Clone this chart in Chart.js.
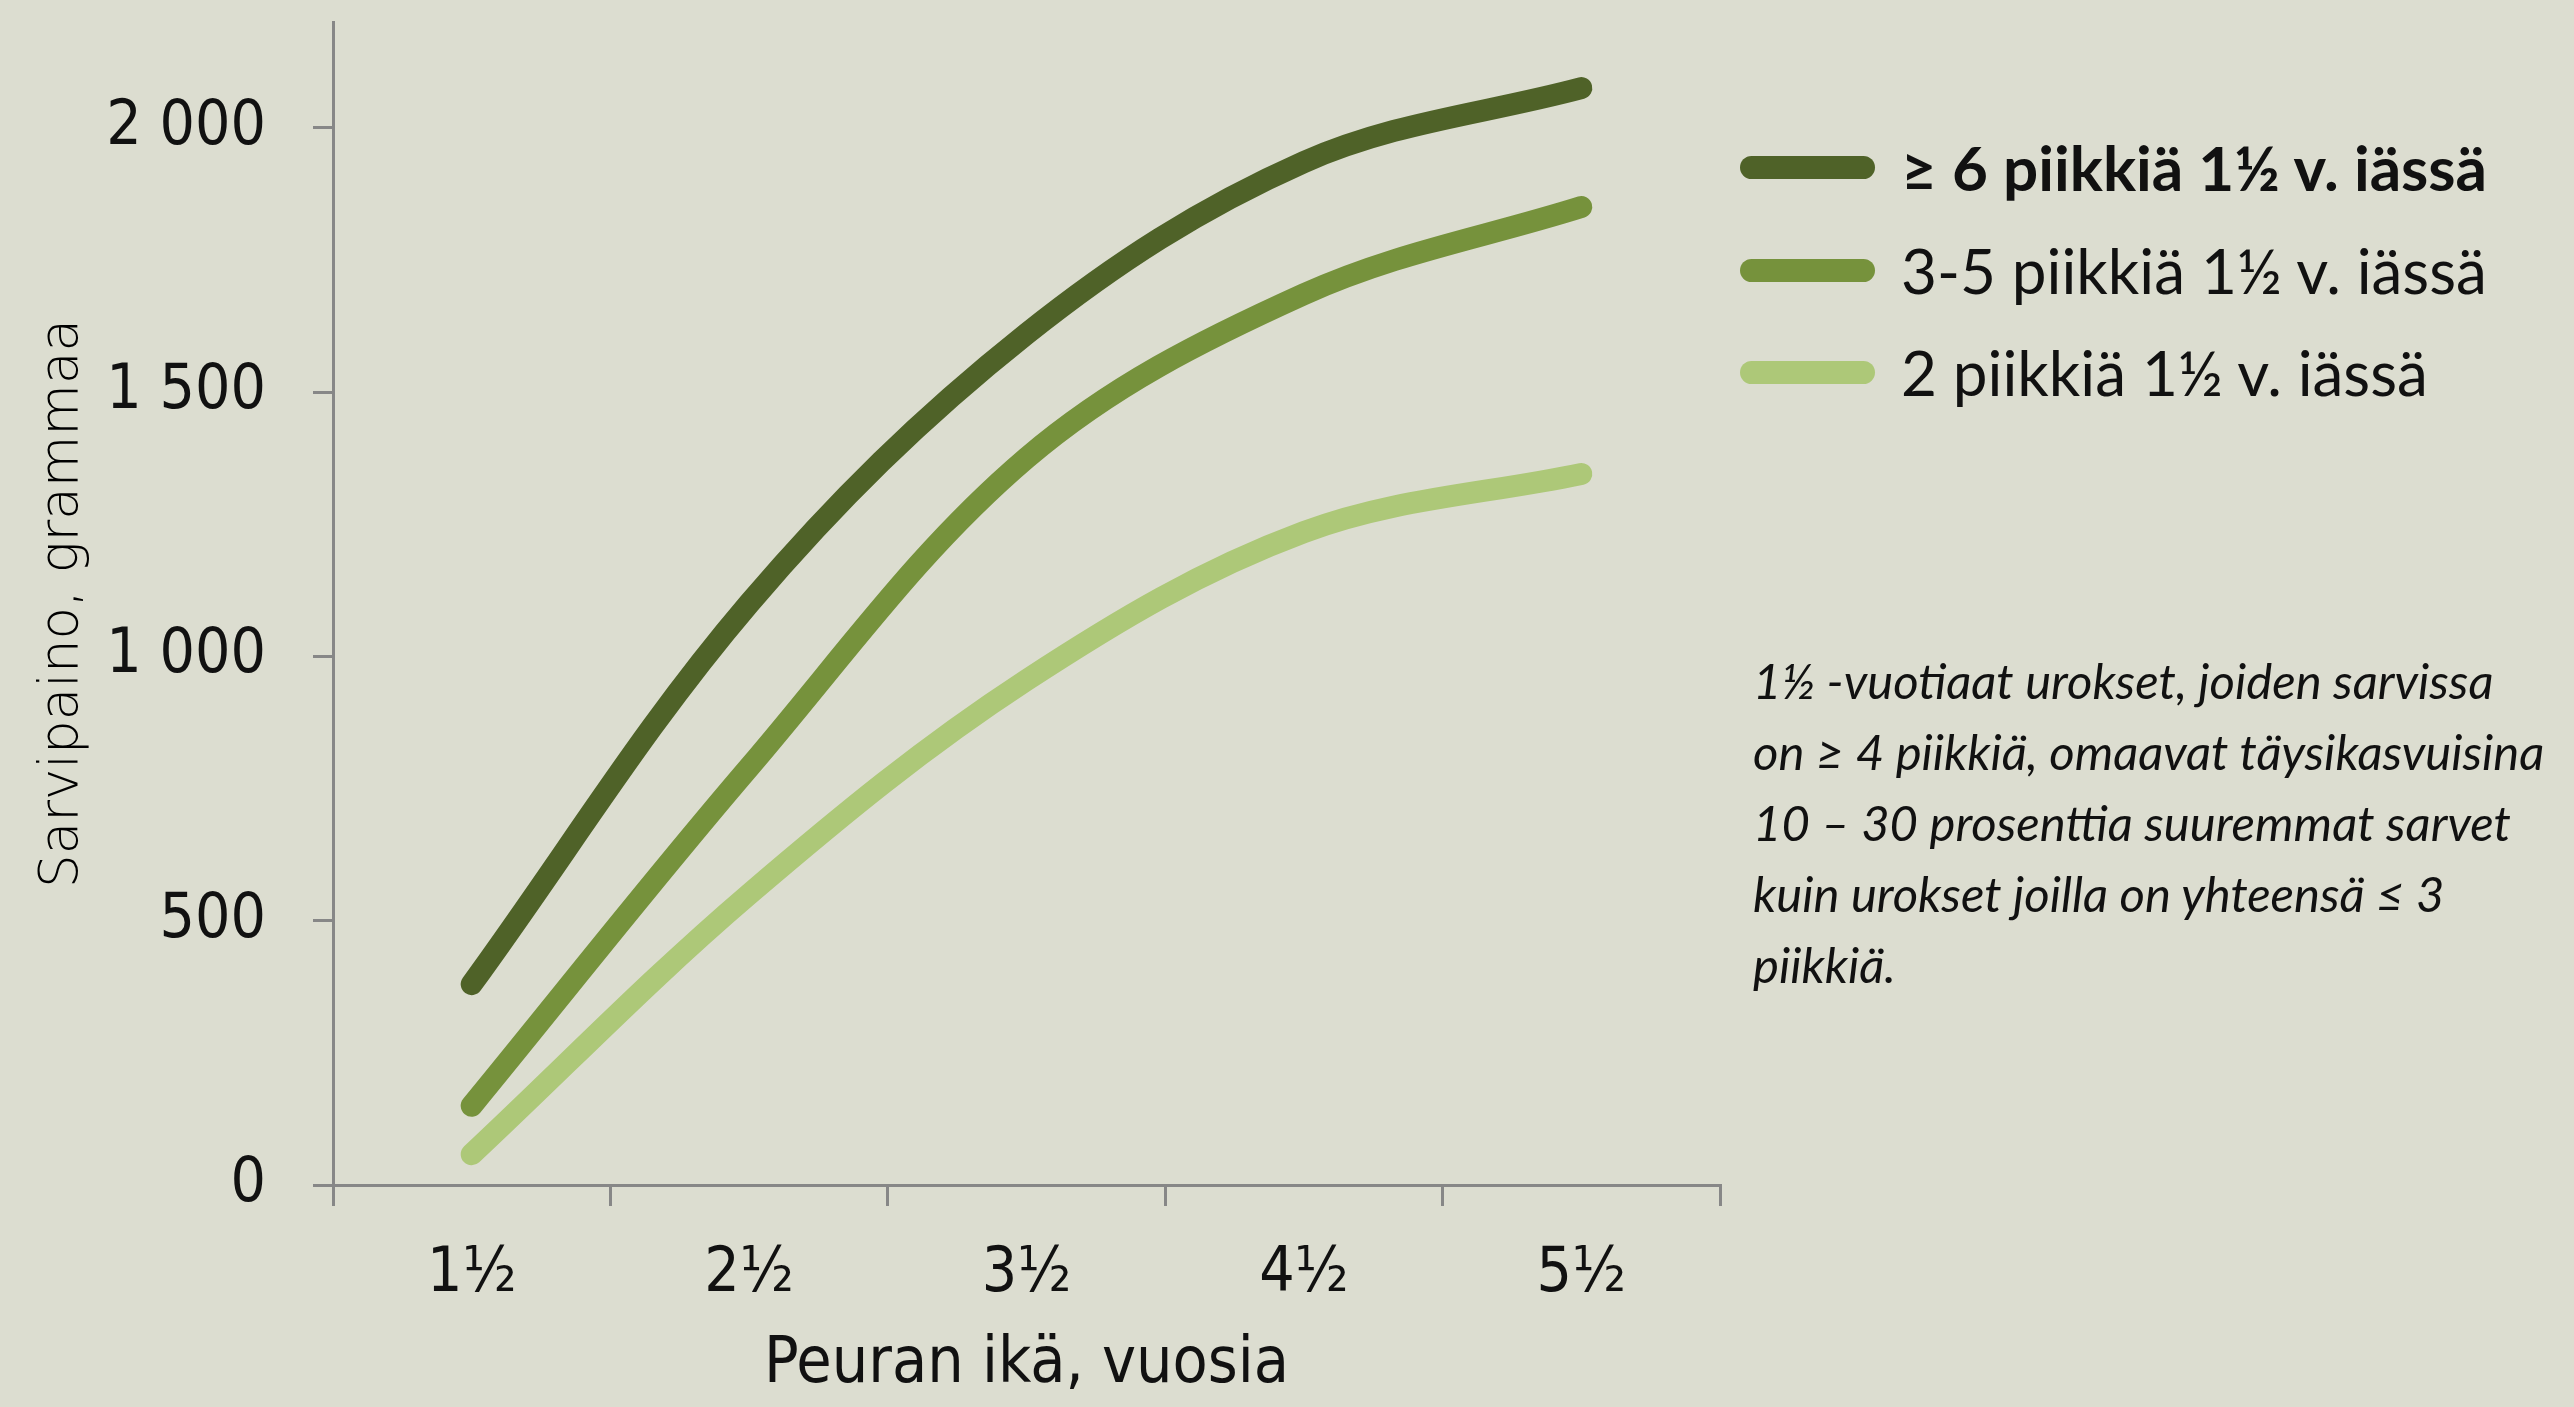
<!DOCTYPE html>
<html>
<head>
<meta charset="utf-8">
<script src="https://cdn.jsdelivr.net/npm/chart.js@4.4.0/dist/chart.umd.min.js"></script>
<style>
    html, body { margin: 0; padding: 0; background: #dcddd0; }
    #wrap { position: relative; width: 2574px; height: 1407px; overflow: hidden; background: #dcddd0; }
    #chart { position: absolute; left: 0; top: 0; }
    .leg { position: absolute; left: 1740px; height: 60px; display: flex; align-items: center;
           font-family: Lato, "Open Sans", sans-serif; font-size: 62px; color: #111; white-space: nowrap; }
    .leg .sw { width: 135px; height: 23px; border-radius: 12px; margin-right: 26px; }
    #note { position: absolute; left: 1753px; top: 645px; font-family: Lato, "Open Sans", sans-serif;
            font-style: italic; font-size: 49px; line-height: 71px; white-space: nowrap; color: #111; }
</style>
</head>
<body>
<div id="wrap">
    <canvas id="chart" width="2574" height="1407"></canvas>
    <div id="note">1½ -vuotiaat urokset, joiden sarvissa<br>on ≥ 4 piikkiä, omaavat täysikasvuisina<br>10 – 30 prosenttia suuremmat sarvet<br>kuin urokset joilla on yhteensä ≤ 3<br>piikkiä.</div>
</div>
<script>
const ages = ['1½', '2½', '3½', '4½', '5½'];
const seriesNames = ['≥ 6 piikkiä 1½ v. iässä', '3-5 piikkiä 1½ v. iässä', '2 piikkiä 1½ v. iässä'];
const sixOrMore = [380, 1100, 1610, 1935, 2075];
const threeToFive = [150, 790, 1375, 1685, 1850];
const twoPoints = [58, 550, 955, 1235, 1345];
const yTickValues = [0, 500, 1000, 1500, 2000];
const seriesColors = ['#4f6228', '#76923c', '#adc878'];

const axisGray = '#878787';
const seriesData = [sixOrMore, threeToFive, twoPoints];

// legend rows (html)
const wrap = document.getElementById('wrap');
const legendTops = [137, 240, 342];
seriesNames.forEach(function(name, i) {
    const row = document.createElement('div');
    row.className = 'leg';
    row.style.top = legendTops[i] + 'px';
    if (i === 0) row.style.fontWeight = 'bold';
    const sw = document.createElement('div');
    sw.className = 'sw';
    sw.style.background = seriesColors[i];
    const txt = document.createElement('span');
    txt.textContent = name;
    row.appendChild(sw);
    row.appendChild(txt);
    wrap.appendChild(row);
});

function formatThousands(v) {
    if (v < 1000) return String(v);
    const rest = String(v % 1000).padStart(3, '0');
    return Math.floor(v / 1000) + ' ' + rest;
}

const tickFont = '"Liberation Sans Narrow", "DejaVu Sans Condensed", sans-serif';

const ctx = document.getElementById('chart').getContext('2d');
new Chart(ctx, {
    type: 'line',
    data: {
        labels: ages,
        datasets: seriesData.map(function(vals, i) {
            return {
                label: seriesNames[i],
                data: vals,
                borderColor: seriesColors[i],
                backgroundColor: seriesColors[i],
                borderWidth: 22,
                borderCapStyle: 'round',
                borderJoinStyle: 'round',
                pointRadius: 0,
                tension: 0.35,
                fill: false
            };
        }).reverse()
    },
    options: {
        responsive: false,
        animation: false,
        layout: { padding: { left: 0, right: 854, top: 22, bottom: 0 } },
        plugins: {
            legend: { display: false },
            tooltip: { enabled: false }
        },
        scales: {
            x: {
                offset: true,
                afterFit: function(scale) {
                    scale.height = 222;
                    scale.paddingLeft = 0;
                    scale.paddingRight = 0;
                },
                grid: {
                    offset: true,
                    drawOnChartArea: false,
                    drawTicks: true,
                    tickLength: 21,
                    color: axisGray,
                    lineWidth: 3
                },
                border: { display: true, color: axisGray, width: 3 },
                ticks: {
                    padding: 32,
                    color: '#111',
                    font: { family: tickFont, size: 62 }
                },
                title: {
                    display: true,
                    text: 'Peuran ikä, vuosia',
                    color: '#111',
                    padding: { top: 0, bottom: 3 },
                    font: { family: tickFont, size: 64 }
                }
            },
            y: {
                min: 0,
                max: 2200,
                afterFit: function(scale) {
                    scale.width = 333;
                    scale.paddingTop = 0;
                    scale.paddingBottom = 0;
                },
                afterBuildTicks: function(scale) {
                    scale.ticks = yTickValues.map(function(v) { return { value: v }; });
                },
                grid: {
                    drawOnChartArea: false,
                    drawTicks: true,
                    tickLength: 20,
                    color: axisGray,
                    lineWidth: 3
                },
                border: { display: true, color: axisGray, width: 3 },
                ticks: {
                    padding: 47,
                    color: '#111',
                    font: { family: tickFont, size: 62 },
                    callback: function(v) { return formatThousands(v); }
                },
                title: {
                    display: true,
                    text: 'Sarvipaino, grammaa',
                    color: '#000',
                    padding: { top: 31, bottom: 0 },
                    font: { family: '"DejaVu Sans", sans-serif', size: 53, weight: 200 }
                }
            }
        }
    }
});
</script>
</body>
</html>
